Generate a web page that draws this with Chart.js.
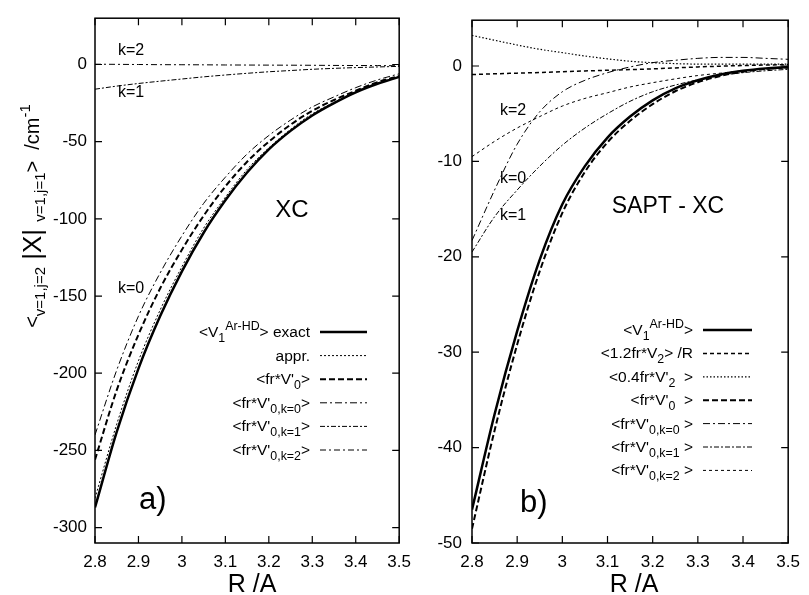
<!DOCTYPE html>
<html>
<head>
<meta charset="utf-8">
<script src="https://cdn.jsdelivr.net/npm/chart.js@4.4.0/dist/chart.umd.min.js"></script>
<style>
  html, body { margin: 0; padding: 0; background: #fff; }
  #wrap { position: relative; width: 809px; height: 595px; }
  canvas { position: absolute; top: 0; }
  #chart-a { left: 0; }
  #chart-b { left: 420px; }
</style>
</head>
<body>
<div id="wrap">
  <canvas id="chart-a" width="420" height="595"></canvas>
  <canvas id="chart-b" width="389" height="595"></canvas>
</div>
<script>
// ── data ──
const R = [2.80, 2.85, 2.90, 2.95, 3.00, 3.05, 3.10, 3.15, 3.20, 3.25, 3.30, 3.35, 3.40, 3.45, 3.50];
const xTicks = [2.8, 2.9, 3.0, 3.1, 3.2, 3.3, 3.4, 3.5];

// panel a) XC
const aYTicks = [-300, -250, -200, -150, -100, -50, 0];
const aLabels = ['<V_1^{Ar-HD}> exact', 'appr.', "<fr*V'_0>", "<fr*V'_{0,k=0}>", "<fr*V'_{0,k=1}>", "<fr*V'_{0,k=2}>"];
const aExact = [-287, -238, -197, -163, -134, -109, -88, -70, -55, -43, -33, -25, -18, -12.5, -8];
const aAppr  = [-281, -233, -192, -159, -131, -106, -86, -68, -54, -42, -32, -24.5, -17.5, -12, -7.8];
const aFrV0  = [-256, -211, -175, -145, -120, -98, -79, -63, -50, -39, -30, -23, -17, -11.5, -7.5];
const aK0    = [-240, -198, -163, -135, -111, -90, -73, -58, -46, -36, -27.5, -21, -15, -10, -6];
const aK1    = [-16, -14, -12.3, -10.8, -9.4, -8, -6.8, -5.7, -4.7, -3.9, -3.1, -2.5, -2, -1.6, -1.2];
const aK2    = [0.2, 0.1, 0, -0.1, -0.15, -0.2, -0.3, -0.35, -0.4, -0.45, -0.5, -0.6, -0.65, -0.7, -0.8];

// panel b) SAPT - XC
const bYTicks = [-50, -40, -30, -20, -10, 0];
const bLabels = ['<V_1^{Ar-HD}>', '<1.2fr*V_2> /R', "<0.4fr*V'_2  >", "<fr*V'_0  >", "<fr*V'_{0,k=0} >", "<fr*V'_{0,k=1} >", "<fr*V'_{0,k=2} >"];
const bExact = [-46.5, -36.5, -27.8, -20.3, -14.5, -10.5, -7.5, -5.3, -3.6, -2.35, -1.5, -0.9, -0.5, -0.25, -0.1];
const bV2R   = [-0.9, -0.82, -0.75, -0.68, -0.6, -0.52, -0.45, -0.38, -0.3, -0.2, -0.1, -0.02, 0.05, 0.1, 0.15];
const bV2p   = [3.2, 2.7, 2.2, 1.75, 1.4, 1.05, 0.75, 0.5, 0.35, 0.25, 0.2, 0.2, 0.2, 0.2, 0.2];
const bFrV0  = [-48.5, -38.2, -29.2, -21.5, -15.4, -11.1, -8.0, -5.75, -4.0, -2.65, -1.7, -1.05, -0.6, -0.3, -0.15];
const bK0    = [-18.3, -13, -8.2, -4.8, -2.7, -1.5, -0.7, -0.1, 0.35, 0.6, 0.8, 0.9, 0.9, 0.8, 0.7];
const bK1    = [-19.5, -15.8, -13, -10.5, -8.3, -6.5, -5.0, -3.7, -2.7, -2.0, -1.45, -1.0, -0.7, -0.5, -0.35];
const bK2    = [-9.5, -7.9, -6.5, -5.3, -4.2, -3.4, -2.8, -2.2, -1.75, -1.35, -1.0, -0.75, -0.5, -0.35, -0.2];

const FONT = '"Liberation Sans", Arial, Helvetica, sans-serif';

// ── rich text (gnuplot-like _sub ^sup) ──
function parseRich(s) {
  const segs = [];
  let buf = '', i = 0;
  while (i < s.length) {
    const c = s[i];
    if (c === '_' || c === '^') {
      if (buf) { segs.push({ t: buf, m: 'n' }); buf = ''; }
      let t;
      if (s[i + 1] === '{') { const j = s.indexOf('}', i); t = s.slice(i + 2, j); i = j + 1; }
      else { t = s[i + 1]; i += 2; }
      segs.push({ t, m: c === '_' ? 'sub' : 'sup' });
    } else { buf += c; i++; }
  }
  if (buf) segs.push({ t: buf, m: 'n' });
  return segs;
}

function drawSegs(ctx, segs, x, y, size, align, small = 0.75) {
  const fontFor = m => (m === 'big' ? size * 1.3 : (m === 'n' ? size : size * small)) + 'px ' + FONT;
  let w = 0;
  segs.forEach(s => { ctx.font = fontFor(s.m); s.w = ctx.measureText(s.t).width; w += s.w; });
  let cx = align === 'right' ? x - w : align === 'center' ? x - w / 2 : x;
  ctx.textAlign = 'left';
  ctx.textBaseline = 'alphabetic';
  segs.forEach(s => {
    ctx.font = fontFor(s.m);
    const dy = s.m === 'sub' ? size * 0.32 : s.m === 'sup' ? -size * 0.45 : s.m === 'big' ? size * 0.08 : 0;
    ctx.fillText(s.t, cx, y + dy);
    cx += s.w;
  });
}

// ── frame, inward ticks, legend, notes ──
function makeDecor(d) {
  return {
    id: 'decor',
    afterDraw(chart) {
      const { ctx, chartArea: a, scales: { x, y } } = chart;
      ctx.save();
      ctx.strokeStyle = '#000';
      ctx.fillStyle = '#000';
      ctx.lineWidth = 1.5;
      ctx.strokeRect(a.left, a.top, a.right - a.left, a.bottom - a.top);
      ctx.lineWidth = 1.2;
      ctx.beginPath();
      x.ticks.forEach(t => {
        const px = x.getPixelForValue(t.value);
        ctx.moveTo(px, a.bottom); ctx.lineTo(px, a.bottom - 7);
        ctx.moveTo(px, a.top); ctx.lineTo(px, a.top + 7);
      });
      y.ticks.forEach(t => {
        const py = y.getPixelForValue(t.value);
        ctx.moveTo(a.left, py); ctx.lineTo(a.left + 7, py);
        ctx.moveTo(a.right, py); ctx.lineTo(a.right - 7, py);
      });
      ctx.stroke();

      // legend
      chart.data.datasets.forEach((ds, i) => {
        const ly = d.legY + i * d.legDy;
        drawSegs(ctx, parseRich(ds.label), d.legTextX, ly + 5, 15.5, 'right', 0.8);
        ctx.beginPath();
        ctx.lineWidth = ds.borderWidth;
        ctx.setLineDash(ds.borderDash || []);
        ctx.moveTo(d.legX1, ly); ctx.lineTo(d.legX2, ly);
        ctx.stroke();
      });
      ctx.setLineDash([]);

      // notes
      d.notes.forEach(n => {
        drawSegs(ctx, parseRich(n.t), n.x, n.y, n.size, n.align || 'left');
      });

      // axis titles
      drawSegs(ctx, [{ t: 'R /A', m: 'n' }], d.xTitleX, 592, 25, 'center');
      if (d.yTitle) {
        ctx.save();
        ctx.translate(39, 216);
        ctx.rotate(-Math.PI / 2);
        drawSegs(ctx, d.yTitle, 0, 0, 20, 'center');
        ctx.restore();
      }
      ctx.restore();
    }
  };
}

function series(label, vals, width, dash) {
  return {
    label,
    data: R.map((r, i) => ({ x: r, y: vals[i] })),
    borderColor: '#000',
    borderWidth: width,
    borderDash: dash,
    pointRadius: 0,
    fill: false,
    cubicInterpolationMode: 'monotone',
  };
}

function axisOpts(vals, fit, pad) {
  return {
    type: 'linear',
    afterBuildTicks: s => { s.ticks = vals.map(v => ({ value: v })); },
    afterFit: fit,
    grid: { display: false, drawTicks: false },
    border: { display: false },
    ticks: {
      color: '#000', font: { family: FONT, size: 17 }, padding: pad,
      autoSkip: false, maxRotation: 0,
      callback: v => String(+v.toFixed(1)),
    },
  };
}

function makeChart(id, datasets, yMin, yMax, yTicks, yWidth, pad, decor) {
  const x = axisOpts(xTicks, s => { s.height = 52; }, 9);
  x.min = 2.8; x.max = 3.5;
  const y = axisOpts(yTicks, s => { s.width = yWidth; }, pad.yPad);
  y.min = yMin; y.max = yMax;
  new Chart(document.getElementById(id), {
    type: 'line',
    data: { datasets },
    options: {
      responsive: false, animation: false,
      layout: { padding: { left: 0, right: pad.right, top: pad.top, bottom: 0 } },
      plugins: { legend: { display: false }, tooltip: { enabled: false } },
      scales: { x, y },
    },
    plugins: [makeDecor(decor)],
  });
}

document.addEventListener('DOMContentLoaded', () => {
  // ── a) XC ──
  makeChart('chart-a', [
    series(aLabels[0], aExact, 2.5, []),
    series(aLabels[1], aAppr, 1, [2, 2]),
    series(aLabels[2], aFrV0, 2, [6, 3]),
    series(aLabels[3], aK0, 1, [7, 3, 2, 3]),
    series(aLabels[4], aK1, 1, [5, 2, 2, 2]),
    series(aLabels[5], aK2, 1, [6, 3, 2, 3]),
  ], -310, 30, aYTicks, 95, { right: 10, top: 11, yPad: 8 }, {
    legY: 332, legDy: 23.6, legTextX: 310, legX1: 320, legX2: 367,
    xTitleX: 252,
    notes: [
      { t: 'k=2', x: 118, y: 55, size: 16 },
      { t: 'k=1', x: 118, y: 97, size: 16 },
      { t: 'k=0', x: 118, y: 293, size: 16 },
      { t: 'XC', x: 292, y: 217, size: 24, align: 'center' },
      { t: 'a)', x: 139, y: 509, size: 31 },
    ],
    yTitle: [
      { t: '<', m: 'n' }, { t: 'v=1,j=2', m: 'sub' }, { t: ' |X| ', m: 'big' },
      { t: 'v=1,j=1', m: 'sub' }, { t: '>  /cm', m: 'n' }, { t: '-1', m: 'sup' },
    ],
  });

  // ── b) SAPT - XC ──
  makeChart('chart-b', [
    series(bLabels[0], bExact, 2.5, []),
    series(bLabels[1], bV2R, 1.5, [4, 3]),
    series(bLabels[2], bV2p, 1.2, [1.5, 2]),
    series(bLabels[3], bFrV0, 2, [6, 3]),
    series(bLabels[4], bK0, 1, [7, 3, 2, 3]),
    series(bLabels[5], bK1, 1, [5, 2, 2, 2]),
    series(bLabels[6], bK2, 1, [3, 3]),
  ], -50, 4.8, bYTicks, 52, { right: 12, top: 12, yPad: 10 }, {
    legY: 330, legDy: 23.4, legTextX: 273, legX1: 283, legX2: 332,
    xTitleX: 214,
    notes: [
      { t: 'k=2', x: 80, y: 115, size: 16 },
      { t: 'k=0', x: 80, y: 183, size: 16 },
      { t: 'k=1', x: 80, y: 220, size: 16 },
      { t: 'SAPT - XC', x: 248, y: 213, size: 23, align: 'center' },
      { t: 'b)', x: 100, y: 512, size: 31 },
    ],
  });
});
</script>
</body>
</html>
